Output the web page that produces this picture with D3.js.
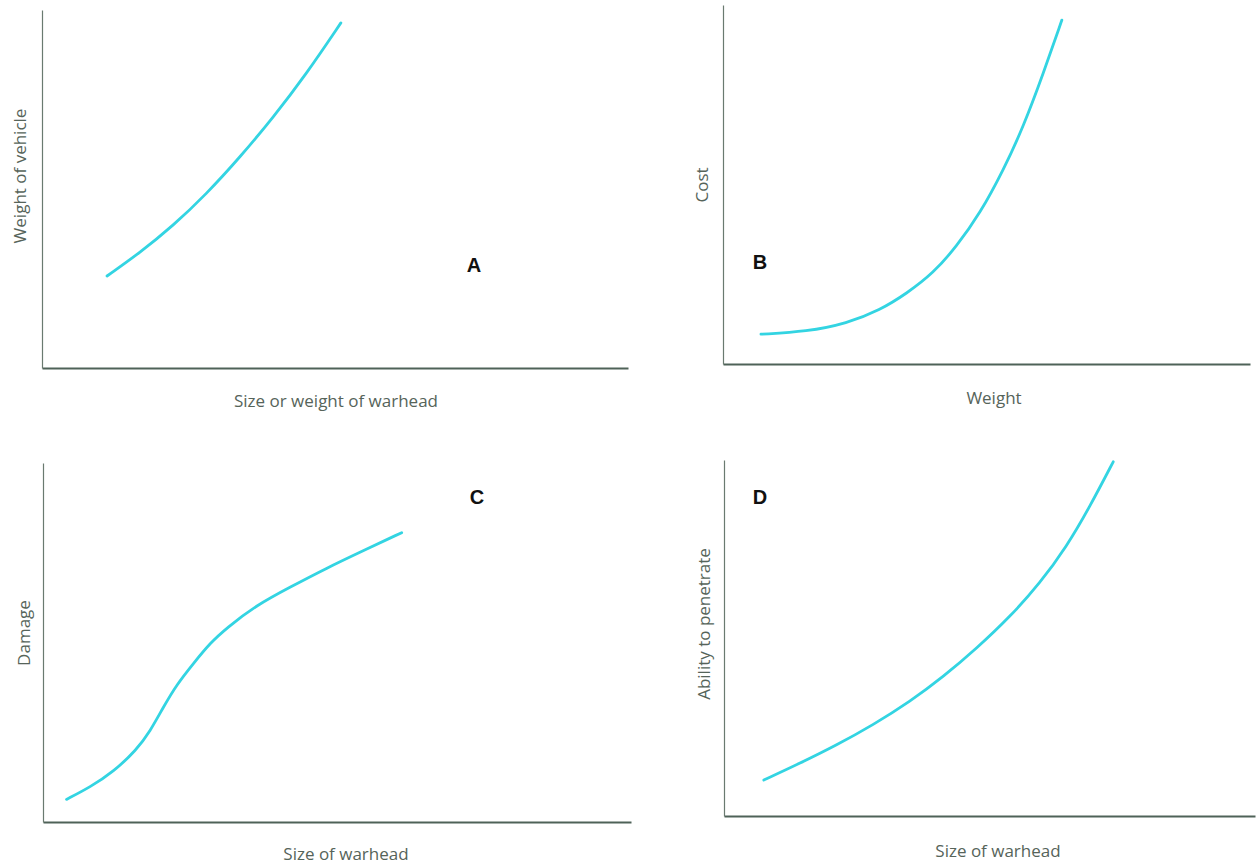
<!DOCTYPE html>
<html><head><meta charset="utf-8">
<script src="https://cdn.jsdelivr.net/npm/d3@7"></script>
<style>
body{margin:0;background:#fff;}
svg{display:block;}
.lbl{font-family:"Open Sans",sans-serif;font-size:17px;fill:#56645a;}
.tag{font-family:"Liberation Sans",Arial,sans-serif;font-size:20px;font-weight:bold;fill:#111;}
</style></head>
<body>
<svg id="c" width="1256" height="865"></svg>
<script>
// Panel A: Weight of vehicle vs size/weight of warhead
const aX = [11.1, 16.7, 22.4, 28.0, 33.8, 39.4, 45.1, 51.0];
const aY = [25.7, 32.2, 39.8, 48.5, 58.9, 69.9, 82.1, 96.4];
// Panel B: Cost vs weight
const bX = [7.2, 15.9, 23.5, 29.8, 34.9, 39.9, 44.3, 48.8, 53.2, 57.0, 60.8, 64.3];
const bY = [8.3, 9.0, 11.3, 15.0, 19.7, 25.3, 32.7, 42.0, 54.0, 66.1, 81.0, 95.8];
// Panel C: Damage vs size of warhead
const cX = [4.0, 8.0, 12.0, 15.9, 18.2, 20.5, 22.7, 25.6, 28.4, 31.2, 36.3, 42.0, 48.2, 54.5, 61.0];
const cY = [6.3, 9.7, 14.0, 20.1, 25.2, 32.1, 38.2, 44.2, 49.8, 54.0, 60.4, 65.4, 70.7, 75.6, 80.6];
// Panel D: Ability to penetrate vs size of warhead
const dX = [7.5, 14.3, 21.2, 28.1, 35.0, 41.3, 47.6, 53.9, 59.5, 64.5, 68.9, 73.3];
const dY = [10.1, 14.8, 19.9, 25.6, 32.1, 39.1, 47.1, 56.0, 65.4, 75.6, 86.9, 99.5];

const panelTags = ["A", "B", "C", "D"];
const yTitles = ["Weight of vehicle", "Cost", "Damage", "Ability to penetrate"];
const xTitles = ["Size or weight of warhead", "Weight", "Size of warhead", "Size of warhead"];

const svg = d3.select("#c");
const layout = [
  {x0:42, x1:628, yb:368, yt:10, tag:[474,265], yl:[19,176], xl:[336,400], xs:aX, ys:aY},
  {x0:723, x1:1250, yb:364, yt:5, tag:[760,262], yl:[701,185], xl:[994,397], xs:bX, ys:bY},
  {x0:43, x1:631, yb:822, yt:463, tag:[477,497], yl:[23,633], xl:[346,853], xs:cX, ys:cY},
  {x0:724, x1:1255, yb:816, yt:460, tag:[760,497], yl:[703,624], xl:[998,850], xs:dX, ys:dY}
];

layout.forEach((p, i) => {
  const x = d3.scaleLinear().domain([0,100]).range([p.x0, p.x1]);
  const y = d3.scaleLinear().domain([0,100]).range([p.yb, p.yt]);
  const g = svg.append("g");
  const ax = g.append("g").attr("transform", `translate(0,${p.yb})`)
    .call(d3.axisBottom(x).tickValues([]).tickSizeOuter(0));
  ax.select(".domain").attr("stroke", "#4f6258").attr("stroke-width", 2);
  const ay = g.append("g").attr("transform", `translate(${p.x0},0)`)
    .call(d3.axisLeft(y).tickValues([]).tickSizeOuter(0));
  ay.select(".domain").attr("stroke", "#6a7a70").attr("stroke-width", 1.2);

  const pts = p.xs.map((v, k) => [v, p.ys[k]]);
  g.append("path").datum(pts)
    .attr("fill", "none").attr("stroke", "#33d4e2").attr("stroke-width", 2.8)
    .attr("stroke-linecap", "round")
    .attr("d", d3.line().x(d => x(d[0])).y(d => y(d[1])).curve(d3.curveBasis));

  g.append("text").attr("class", "tag").attr("x", p.tag[0]).attr("y", p.tag[1])
    .attr("text-anchor", "middle").attr("dominant-baseline", "central").text(panelTags[i]);
  g.append("text").attr("class", "lbl")
    .attr("transform", `translate(${p.yl[0]},${p.yl[1]}) rotate(-90)`)
    .attr("text-anchor", "middle").attr("dominant-baseline", "central").text(yTitles[i]);
  g.append("text").attr("class", "lbl").attr("x", p.xl[0]).attr("y", p.xl[1])
    .attr("text-anchor", "middle").attr("dominant-baseline", "central").text(xTitles[i]);
});
</script>
</body></html>
